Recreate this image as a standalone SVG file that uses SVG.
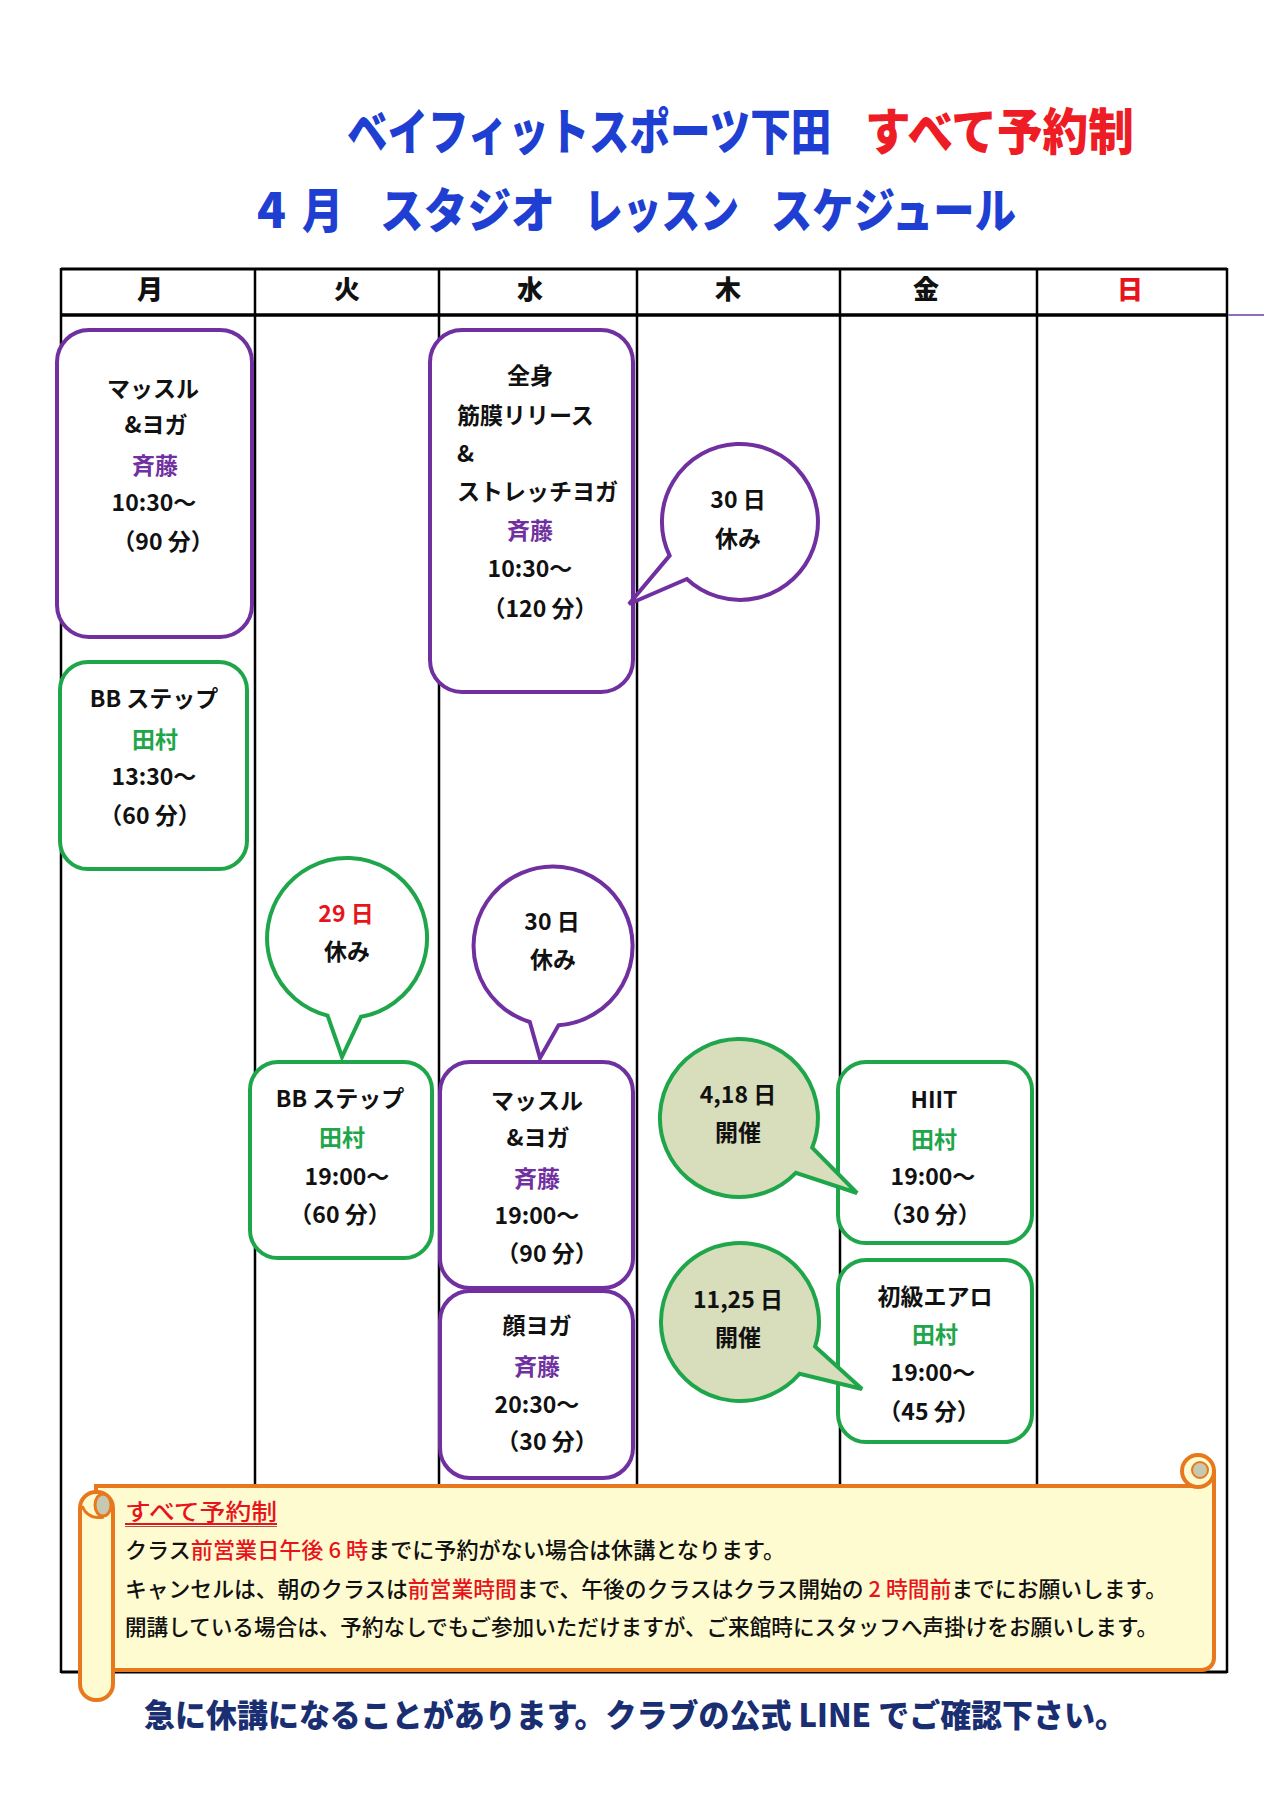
<svg xmlns="http://www.w3.org/2000/svg" width="1280" height="1810" viewBox="0 0 1280 1810">
<style>
text{font-family:"Noto Sans CJK JP","Noto Sans CJK SC",sans-serif;font-weight:700;fill:#111}
.t{font-size:23px;text-anchor:middle}
.tl{font-size:23px;text-anchor:start}
.p{fill:#7030A0}
.g{fill:#1FA64A}
.r{fill:#E8141C}
.bp{fill:#fff;stroke:#7030A0;stroke-width:4}
.bg{fill:#fff;stroke:#1FA64A;stroke-width:4}
.bo{fill:#D8DEBB;stroke:#1FA64A;stroke-width:4}
.grid{stroke:#000;stroke-width:2.5;fill:none}
.hdr{font-size:26px;text-anchor:middle;font-weight:900}
.ttl{font-weight:900;font-size:50px}
.note{font-size:22px;font-weight:500}
.scr{fill:#FFFBD0;stroke:#E8781E;stroke-width:4}
</style>

<g id="title">
<text class="ttl" transform="translate(347,150) scale(0.81,1)" x="0" y="0" style="fill:#1E3FD2">ベイフィットスポーツ下田</text>
<text class="ttl" transform="translate(865,150) scale(0.913,1)" x="0" y="0" style="fill:#EE1C24">すべて予約制</text>
<text class="ttl" y="228" style="font-size:48px;fill:#1E3FD2"><tspan x="257" textLength="29" lengthAdjust="spacingAndGlyphs">4</tspan> <tspan x="302" textLength="41" lengthAdjust="spacingAndGlyphs">月</tspan> <tspan x="380" textLength="175" lengthAdjust="spacingAndGlyphs">スタジオ</tspan> <tspan x="584" textLength="155" lengthAdjust="spacingAndGlyphs">レッスン</tspan> <tspan x="771" textLength="245" lengthAdjust="spacingAndGlyphs">スケジュール</tspan></text>
</g>

<g id="table">
<line class="grid" x1="61" y1="269" x2="1227" y2="269" style="stroke-width:3"/>
<line class="grid" x1="61" y1="315" x2="1227" y2="315" style="stroke-width:3.5"/>
<line class="grid" x1="61" y1="1672" x2="1227" y2="1672" style="stroke-width:3"/>
<line class="grid" x1="61" y1="268" x2="61" y2="1673"/>
<line class="grid" x1="255" y1="268" x2="255" y2="1673"/>
<line class="grid" x1="439" y1="268" x2="439" y2="1673"/>
<line class="grid" x1="637" y1="268" x2="637" y2="1673"/>
<line class="grid" x1="840" y1="268" x2="840" y2="1673"/>
<line class="grid" x1="1037" y1="268" x2="1037" y2="1673"/>
<line class="grid" x1="1227" y1="268" x2="1227" y2="1673"/>
<line x1="1228" y1="315" x2="1264" y2="315" stroke="#8E6CC0" stroke-width="2"/>
<text class="hdr" x="150" y="299">月</text>
<text class="hdr" x="347" y="299">火</text>
<text class="hdr" x="530" y="299">水</text>
<text class="hdr" x="728" y="299">木</text>
<text class="hdr" x="926" y="299">金</text>
<text class="hdr r" x="1130" y="299">日</text>
</g>

<g id="connectors"></g>

<g id="mon-muscle-yoga">
<rect class="bp" x="57" y="330" width="195" height="307" rx="32"/>
<text class="t" x="153" y="397">マッスル</text>
<text class="t" x="156" y="433">&amp;ヨガ</text>
<text class="t p" x="155" y="474">斉藤</text>
<text class="t" x="154" y="511">10:30～</text>
<text class="t" x="163" y="550">（90 分）</text>
</g>

<g id="mon-bb-step">
<rect class="bg" x="60" y="662" width="187" height="207" rx="28"/>
<text class="t" x="154" y="707">BB ステップ</text>
<text class="t g" x="155" y="748">田村</text>
<text class="t" x="154" y="785">13:30～</text>
<text class="t" x="150" y="824">（60 分）</text>
</g>

<g id="wed-fascia">
<rect class="bp" x="430" y="330" width="203" height="362" rx="32"/>
<text class="t" x="530" y="384">全身</text>
<text class="tl" x="457" y="424">筋膜リリース</text>
<text class="tl" x="457" y="462">&amp;</text>
<text class="tl" x="457" y="500">ストレッチヨガ</text>
<text class="t p" x="530" y="539">斉藤</text>
<text class="t" x="530" y="577">10:30～</text>
<text class="t" x="540" y="617">（120 分）</text>
</g>

<g id="thu-closed-30">
<path class="bp" d="M669.6,555.6 L629,604 L686.8,579 A78,78 0 1 0 669.6,555.6 Z"/>
<text class="t" x="738" y="508">30 日</text>
<text class="t" x="738" y="547">休み</text>
</g>

<g id="tue-closed-29">
<path class="bg" d="M327.6,1015.6 L342,1057 L360.9,1016.8 A80,80 0 1 0 327.6,1015.6 Z"/>
<text class="t r" x="346" y="922">29 日</text>
<text class="t" x="347" y="960">休み</text>
</g>

<g id="wed-closed-30">
<path class="bp" d="M529.8,1022 L540,1058 L558.5,1025.3 A79.5,79.5 0 1 0 529.8,1022 Z"/>
<text class="t" x="552" y="930">30 日</text>
<text class="t" x="553" y="968">休み</text>
</g>

<g id="tue-bb-step">
<rect class="bg" x="250" y="1062" width="182" height="196" rx="28"/>
<text class="t" x="340" y="1107">BB ステップ</text>
<text class="t g" x="342" y="1146">田村</text>
<text class="t" x="347" y="1185">19:00～</text>
<text class="t" x="340" y="1223">（60 分）</text>
</g>

<g id="wed-muscle-yoga">
<rect class="bp" x="440" y="1062" width="193" height="226" rx="30"/>
<text class="t" x="537" y="1109">マッスル</text>
<text class="t" x="538" y="1146">&amp;ヨガ</text>
<text class="t p" x="537" y="1187">斉藤</text>
<text class="t" x="537" y="1224">19:00～</text>
<text class="t" x="547" y="1262">（90 分）</text>
</g>

<g id="wed-face-yoga">
<rect class="bp" x="440" y="1291" width="193" height="187" rx="30"/>
<text class="t" x="537" y="1334">顔ヨガ</text>
<text class="t p" x="537" y="1375">斉藤</text>
<text class="t" x="537" y="1413">20:30～</text>
<text class="t" x="547" y="1450">（30 分）</text>
</g>

<g id="fri-hiit">
<rect class="bg" x="838" y="1062" width="194" height="181" rx="28"/>
<text class="t" x="934" y="1108">HIIT</text>
<text class="t g" x="934" y="1148">田村</text>
<text class="t" x="933" y="1185">19:00～</text>
<text class="t" x="930" y="1223">（30 分）</text>
</g>

<g id="fri-aero">
<rect class="bg" x="838" y="1260" width="194" height="182" rx="28"/>
<text class="t" x="935" y="1305">初級エアロ</text>
<text class="t g" x="935" y="1343">田村</text>
<text class="t" x="933" y="1381">19:00～</text>
<text class="t" x="929" y="1420">（45 分）</text>
</g>

<g id="thu-held-4-18">
<path class="bo" d="M812.2,1147.6 L857,1193 L795.8,1172.9 A79,79 0 1 1 812.2,1147.6 Z"/>
<text class="t" x="738" y="1103">4,18 日</text>
<text class="t" x="738" y="1141">開催</text>
</g>

<g id="thu-held-11-25">
<path class="bo" d="M815.1,1346.4 L862,1389 L799.6,1373.8 A79,79 0 1 1 815.1,1346.4 Z"/>
<text class="t" x="738" y="1308">11,25 日</text>
<text class="t" x="738" y="1346">開催</text>
</g>

<g id="notice">
<path class="scr" d="M96,1486 H1198 A16,16 0 0 0 1214,1470 V1658 A12,12 0 0 1 1202,1670 H96 Z"/>
<circle class="scr" cx="1198" cy="1471" r="16"/>
<circle cx="1200" cy="1470" r="8" fill="#C6C8B2" stroke="#E8781E" stroke-width="2"/>
<rect class="scr" x="80" y="1492" width="33" height="208" rx="16"/>
<ellipse cx="103" cy="1505" rx="8" ry="11" fill="#C6C8B2" stroke="#E8781E" stroke-width="3"/>
<path d="M82,1506 Q88,1520 104,1517" fill="none" stroke="#E8781E" stroke-width="3"/>
<text class="note r" x="125" y="1520" style="font-size:23px" textLength="152" lengthAdjust="spacingAndGlyphs">すべて予約制</text>
<line x1="125" y1="1524" x2="277" y2="1524" stroke="#E8141C" stroke-width="2"/>
<line x1="125" y1="1526.5" x2="277" y2="1526.5" stroke="#B05050" stroke-width="1"/>
<text class="note" x="125" y="1558" textLength="660" lengthAdjust="spacingAndGlyphs">クラス<tspan class="r">前営業日午後 6 時</tspan>までに予約がない場合は休講となります。</text>
<text class="note" x="125" y="1597" textLength="1042" lengthAdjust="spacingAndGlyphs">キャンセルは、朝のクラスは<tspan class="r">前営業時間</tspan>まで、午後のクラスはクラス開始の <tspan class="r">2 時間前</tspan>までにお願いします。</text>
<text class="note" x="125" y="1635" textLength="1033" lengthAdjust="spacingAndGlyphs">開講している場合は、予約なしでもご参加いただけますが、ご来館時にスタッフへ声掛けをお願いします。</text>
</g>

<g id="footer">
<text x="144" y="1727" style="font-size:32px;font-weight:900;fill:#1A2E72" textLength="982" lengthAdjust="spacingAndGlyphs">急に休講になることがあります。クラブの公式 LINE でご確認下さい。</text>
</g>
</svg>
